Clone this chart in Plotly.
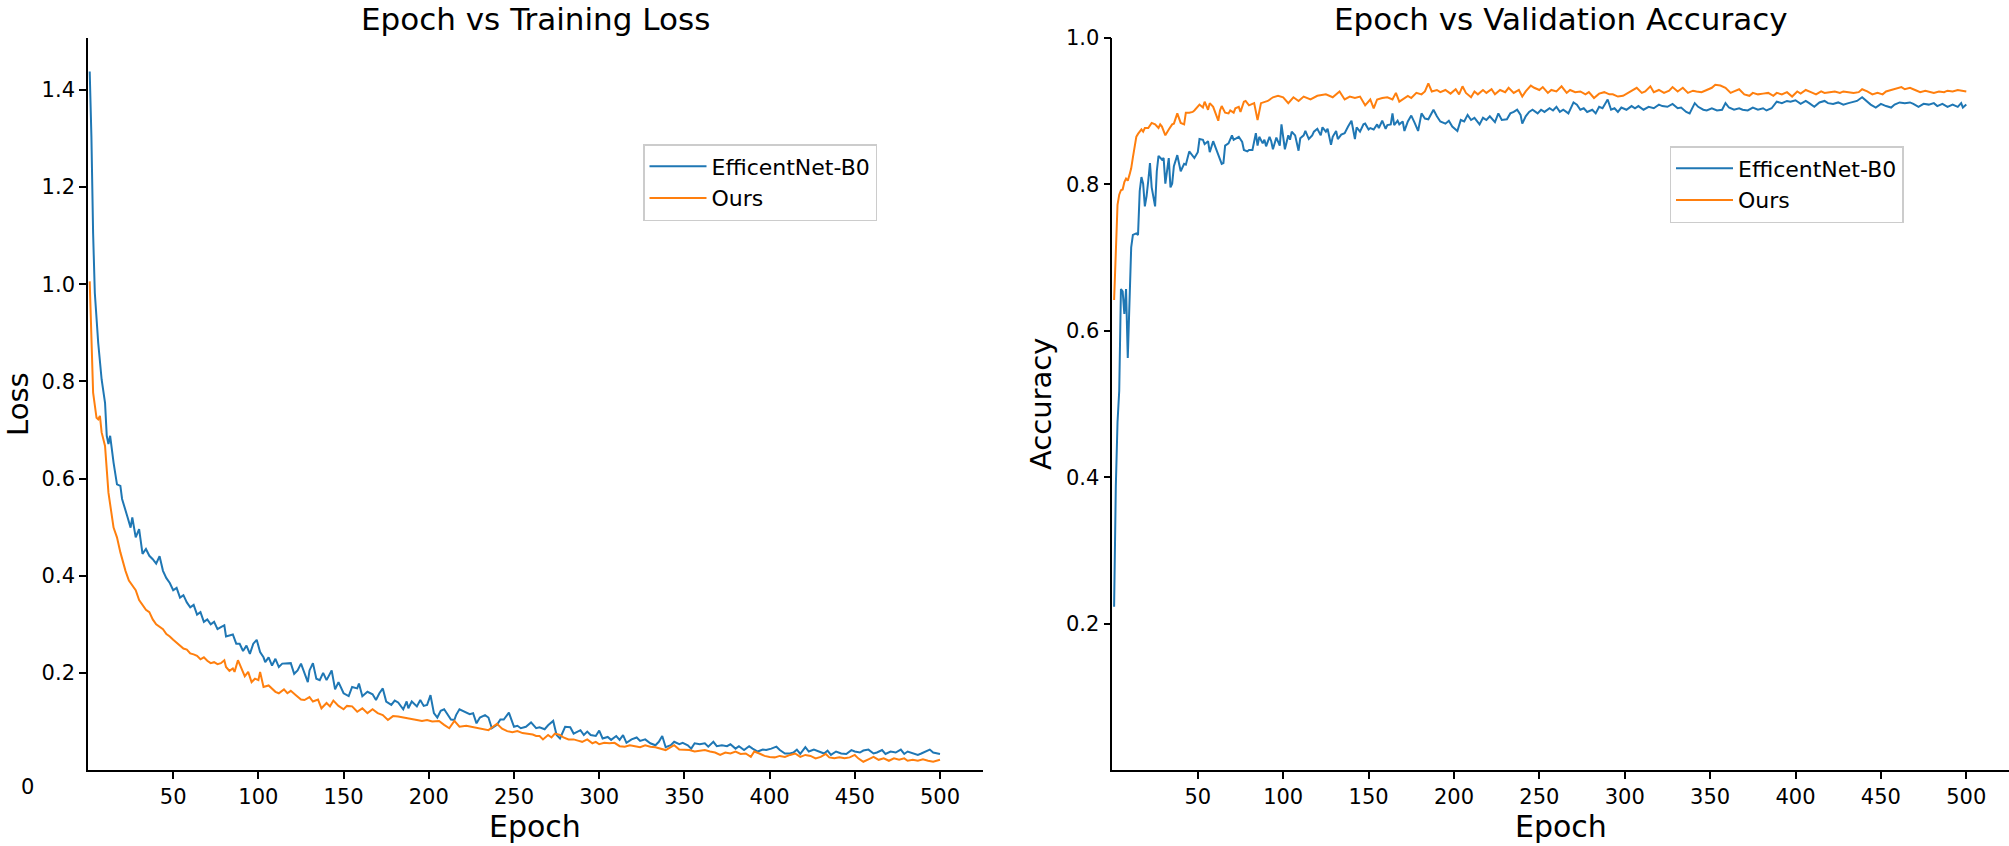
import plotly.graph_objects as go

# ---------------- data ----------------
SERIES_NAMES = ["EfficentNet-B0", "Ours"]
X_TICKS = [50, 100, 150, 200, 250, 300, 350, 400, 450, 500]
LOSS_TICKS = [0.2, 0.4, 0.6, 0.8, 1.0, 1.2, 1.4]
ACC_TICKS = [0.2, 0.4, 0.6, 0.8, 1.0]

# Training loss - EfficentNet-B0
loss_effnet_epoch = [1, 2, 3, 4, 6, 8, 10, 11, 12, 13, 15, 17, 19, 20, 23, 25, 26, 28, 30, 32, 34, 36, 38, 40, 42, 44, 46, 48, 50, 52, 54, 56, 58, 60, 62, 64, 66, 68, 70, 72, 74, 76, 78, 80, 81, 85, 87, 89, 91, 93, 95, 97, 99, 101, 103, 104, 106, 108, 110, 112, 114, 117, 119, 121, 123, 125, 127, 129, 130, 132, 134, 136, 138, 140, 143, 145, 147, 150, 153, 155, 158, 159, 161, 164, 167, 169, 171, 173, 175, 178, 180, 182, 185, 187, 188, 190, 193, 195, 197, 199, 201, 203, 205, 207, 209, 211, 213, 215, 216, 218, 221, 224, 226, 228, 230, 233, 235, 237, 240, 242, 244, 245, 247, 250, 252, 254, 257, 260, 263, 265, 268, 270, 273, 275, 277, 280, 283, 285, 287, 289, 291, 293, 295, 298, 300, 302, 305, 307, 310, 312, 314, 316, 319, 322, 324, 327, 330, 333, 335, 337, 339, 342, 344, 347, 349, 352, 354, 356, 359, 362, 364, 367, 369, 372, 375, 377, 380, 382, 385, 388, 390, 393, 396, 398, 401, 404, 406, 409, 412, 414, 416, 418, 421, 423, 426, 429, 432, 434, 436, 439, 442, 445, 448, 450, 453, 455, 458, 461, 463, 466, 468, 471, 474, 477, 479, 481, 484, 487, 489, 492, 494, 496, 500]
loss_effnet = [1.438, 1.304, 1.105, 0.982, 0.879, 0.804, 0.756, 0.688, 0.671, 0.688, 0.633, 0.588, 0.585, 0.558, 0.523, 0.499, 0.520, 0.479, 0.496, 0.445, 0.455, 0.441, 0.434, 0.425, 0.440, 0.410, 0.395, 0.385, 0.370, 0.375, 0.355, 0.360, 0.345, 0.335, 0.340, 0.320, 0.325, 0.305, 0.310, 0.300, 0.305, 0.290, 0.294, 0.298, 0.275, 0.279, 0.260, 0.260, 0.245, 0.256, 0.239, 0.260, 0.268, 0.243, 0.232, 0.222, 0.232, 0.215, 0.229, 0.212, 0.219, 0.219, 0.220, 0.198, 0.205, 0.219, 0.198, 0.181, 0.205, 0.220, 0.188, 0.185, 0.200, 0.185, 0.205, 0.166, 0.181, 0.158, 0.152, 0.171, 0.168, 0.178, 0.152, 0.161, 0.156, 0.144, 0.158, 0.168, 0.141, 0.134, 0.143, 0.139, 0.125, 0.141, 0.127, 0.141, 0.131, 0.144, 0.132, 0.134, 0.154, 0.117, 0.108, 0.122, 0.125, 0.113, 0.104, 0.103, 0.113, 0.125, 0.120, 0.115, 0.117, 0.096, 0.108, 0.113, 0.108, 0.086, 0.093, 0.104, 0.104, 0.108, 0.118, 0.089, 0.091, 0.086, 0.089, 0.098, 0.086, 0.088, 0.084, 0.092, 0.101, 0.072, 0.065, 0.089, 0.088, 0.075, 0.079, 0.082, 0.072, 0.079, 0.072, 0.070, 0.081, 0.065, 0.068, 0.062, 0.070, 0.062, 0.072, 0.056, 0.063, 0.067, 0.060, 0.063, 0.055, 0.051, 0.058, 0.070, 0.047, 0.051, 0.058, 0.053, 0.056, 0.051, 0.044, 0.055, 0.053, 0.055, 0.048, 0.058, 0.049, 0.051, 0.049, 0.053, 0.044, 0.049, 0.041, 0.049, 0.044, 0.038, 0.042, 0.041, 0.044, 0.048, 0.041, 0.034, 0.034, 0.036, 0.042, 0.033, 0.047, 0.038, 0.042, 0.038, 0.034, 0.040, 0.031, 0.038, 0.034, 0.033, 0.041, 0.038, 0.036, 0.040, 0.042, 0.034, 0.036, 0.041, 0.033, 0.038, 0.036, 0.042, 0.033, 0.038, 0.034, 0.031, 0.034, 0.038, 0.042, 0.036, 0.033]

# Training loss - Ours
loss_ours_epoch = [1, 2, 3, 5, 6, 7, 8, 10, 12, 15, 17, 19, 20, 22, 24, 26, 28, 30, 32, 34, 36, 38, 40, 42, 44, 46, 48, 50, 52, 54, 56, 58, 60, 62, 64, 66, 68, 70, 72, 74, 76, 78, 80, 81, 83, 85, 86, 88, 90, 92, 94, 96, 98, 100, 101, 103, 106, 108, 110, 112, 115, 117, 119, 122, 125, 127, 130, 132, 135, 137, 140, 142, 144, 147, 150, 152, 155, 158, 161, 164, 167, 170, 173, 176, 179, 182, 186, 189, 193, 196, 199, 202, 206, 209, 212, 215, 218, 222, 225, 228, 232, 235, 238, 240, 243, 246, 249, 252, 255, 258, 261, 263, 265, 267, 270, 272, 274, 277, 279, 282, 285, 288, 290, 293, 296, 298, 300, 303, 306, 309, 312, 315, 318, 321, 324, 327, 330, 333, 336, 339, 342, 344, 347, 350, 353, 356, 359, 362, 365, 368, 371, 374, 377, 380, 383, 386, 389, 391, 394, 397, 400, 403, 406, 409, 412, 415, 418, 421, 424, 427, 430, 433, 435, 438, 441, 444, 447, 450, 452, 455, 458, 461, 464, 467, 470, 473, 476, 479, 481, 484, 487, 490, 493, 496, 500]
loss_ours = [1.006, 0.900, 0.777, 0.725, 0.722, 0.729, 0.695, 0.667, 0.571, 0.499, 0.479, 0.448, 0.434, 0.410, 0.390, 0.380, 0.370, 0.350, 0.340, 0.330, 0.325, 0.310, 0.300, 0.295, 0.290, 0.280, 0.275, 0.268, 0.262, 0.258, 0.250, 0.248, 0.240, 0.238, 0.235, 0.228, 0.232, 0.225, 0.220, 0.222, 0.218, 0.220, 0.226, 0.212, 0.204, 0.209, 0.202, 0.226, 0.209, 0.193, 0.202, 0.181, 0.188, 0.185, 0.202, 0.171, 0.174, 0.168, 0.161, 0.158, 0.166, 0.158, 0.163, 0.154, 0.145, 0.144, 0.150, 0.141, 0.145, 0.127, 0.138, 0.131, 0.143, 0.132, 0.125, 0.132, 0.131, 0.120, 0.127, 0.117, 0.125, 0.117, 0.113, 0.103, 0.111, 0.110, 0.108, 0.106, 0.103, 0.101, 0.103, 0.100, 0.101, 0.093, 0.086, 0.101, 0.089, 0.091, 0.089, 0.088, 0.084, 0.082, 0.090, 0.095, 0.085, 0.080, 0.078, 0.080, 0.076, 0.074, 0.073, 0.070, 0.070, 0.063, 0.072, 0.067, 0.075, 0.072, 0.067, 0.063, 0.063, 0.060, 0.058, 0.063, 0.055, 0.058, 0.053, 0.056, 0.055, 0.056, 0.049, 0.048, 0.051, 0.049, 0.047, 0.051, 0.048, 0.047, 0.044, 0.041, 0.047, 0.051, 0.042, 0.042, 0.041, 0.038, 0.040, 0.041, 0.038, 0.036, 0.031, 0.036, 0.034, 0.038, 0.033, 0.034, 0.027, 0.038, 0.034, 0.029, 0.027, 0.026, 0.029, 0.027, 0.031, 0.034, 0.027, 0.031, 0.029, 0.024, 0.027, 0.033, 0.026, 0.024, 0.026, 0.024, 0.026, 0.031, 0.024, 0.017, 0.022, 0.027, 0.021, 0.024, 0.019, 0.024, 0.021, 0.024, 0.019, 0.021, 0.019, 0.022, 0.019, 0.017, 0.021]

# Validation accuracy - EfficentNet-B0
acc_effnet_epoch = [1, 2, 3, 4, 5, 6, 7, 8, 9, 10, 11, 12, 14, 15, 16, 17, 18, 19, 20, 21, 22, 23, 25, 26, 27, 29, 30, 31, 32, 33, 34, 35, 36, 38, 39, 40, 42, 43, 45, 47, 48, 50, 51, 53, 54, 56, 57, 59, 60, 62, 64, 65, 66, 68, 70, 71, 73, 74, 76, 77, 79, 80, 82, 84, 85, 86, 88, 89, 90, 92, 93, 94, 96, 98, 99, 101, 103, 104, 105, 107, 109, 110, 112, 113, 115, 117, 118, 120, 122, 123, 125, 126, 128, 129, 131, 132, 134, 136, 138, 140, 142, 143, 145, 147, 148, 150, 151, 153, 155, 156, 158, 160, 161, 163, 164, 165, 167, 168, 170, 171, 173, 175, 177, 179, 181, 183, 185, 188, 190, 192, 195, 197, 199, 202, 204, 206, 208, 210, 212, 215, 217, 219, 221, 224, 226, 228, 231, 233, 235, 237, 239, 240, 242, 244, 246, 249, 251, 253, 256, 258, 260, 262, 264, 267, 270, 272, 274, 276, 278, 281, 283, 285, 287, 290, 292, 294, 296, 298, 301, 304, 306, 308, 311, 314, 317, 320, 322, 325, 328, 331, 333, 336, 338, 341, 343, 346, 348, 351, 354, 357, 359, 361, 364, 367, 369, 372, 375, 378, 381, 383, 386, 389, 392, 395, 397, 400, 403, 406, 408, 411, 414, 417, 419, 422, 425, 428, 431, 433, 436, 439, 442, 444, 447, 450, 453, 456, 458, 461, 464, 467, 469, 472, 475, 478, 481, 483, 486, 489, 492, 495, 497, 498, 500]
acc_effnet = [0.223, 0.388, 0.475, 0.518, 0.657, 0.654, 0.623, 0.657, 0.563, 0.647, 0.714, 0.731, 0.733, 0.731, 0.791, 0.810, 0.801, 0.770, 0.784, 0.805, 0.829, 0.796, 0.770, 0.818, 0.839, 0.834, 0.836, 0.801, 0.820, 0.836, 0.796, 0.801, 0.825, 0.840, 0.829, 0.818, 0.828, 0.827, 0.845, 0.839, 0.836, 0.844, 0.862, 0.861, 0.855, 0.859, 0.844, 0.859, 0.853, 0.840, 0.828, 0.829, 0.853, 0.856, 0.867, 0.861, 0.863, 0.865, 0.858, 0.847, 0.845, 0.847, 0.847, 0.870, 0.853, 0.865, 0.856, 0.861, 0.852, 0.865, 0.859, 0.848, 0.864, 0.853, 0.882, 0.848, 0.867, 0.861, 0.872, 0.867, 0.846, 0.863, 0.867, 0.873, 0.862, 0.867, 0.872, 0.876, 0.867, 0.878, 0.872, 0.876, 0.854, 0.865, 0.873, 0.862, 0.868, 0.870, 0.879, 0.887, 0.862, 0.878, 0.872, 0.882, 0.883, 0.875, 0.877, 0.875, 0.882, 0.877, 0.887, 0.876, 0.881, 0.882, 0.897, 0.881, 0.887, 0.882, 0.886, 0.873, 0.886, 0.894, 0.884, 0.873, 0.897, 0.890, 0.889, 0.902, 0.893, 0.886, 0.883, 0.887, 0.879, 0.873, 0.888, 0.886, 0.895, 0.888, 0.891, 0.882, 0.891, 0.888, 0.893, 0.885, 0.897, 0.888, 0.889, 0.897, 0.899, 0.902, 0.895, 0.883, 0.893, 0.899, 0.902, 0.897, 0.902, 0.899, 0.904, 0.901, 0.906, 0.899, 0.902, 0.897, 0.912, 0.909, 0.902, 0.904, 0.899, 0.902, 0.897, 0.906, 0.904, 0.916, 0.902, 0.904, 0.899, 0.905, 0.902, 0.907, 0.904, 0.907, 0.902, 0.906, 0.904, 0.909, 0.907, 0.906, 0.910, 0.904, 0.905, 0.899, 0.897, 0.911, 0.906, 0.902, 0.901, 0.904, 0.901, 0.902, 0.911, 0.905, 0.902, 0.904, 0.902, 0.901, 0.905, 0.902, 0.904, 0.901, 0.904, 0.913, 0.911, 0.914, 0.913, 0.915, 0.910, 0.914, 0.911, 0.906, 0.912, 0.914, 0.911, 0.910, 0.912, 0.909, 0.911, 0.912, 0.914, 0.919, 0.913, 0.909, 0.905, 0.910, 0.907, 0.905, 0.909, 0.912, 0.911, 0.912, 0.910, 0.906, 0.910, 0.909, 0.911, 0.907, 0.910, 0.906, 0.909, 0.906, 0.911, 0.905, 0.909]

# Validation accuracy - Ours
acc_ours_epoch = [1, 2, 3, 4, 5, 6, 7, 8, 9, 10, 11, 12, 13, 14, 15, 16, 17, 18, 19, 21, 22, 23, 25, 27, 28, 29, 31, 32, 33, 35, 36, 38, 39, 40, 42, 43, 45, 47, 48, 50, 51, 53, 54, 56, 57, 59, 60, 62, 63, 64, 66, 68, 69, 71, 72, 74, 75, 77, 78, 80, 83, 85, 87, 91, 94, 97, 100, 103, 106, 109, 112, 116, 120, 125, 129, 133, 136, 139, 142, 145, 148, 151, 153, 155, 158, 161, 164, 166, 168, 171, 173, 175, 178, 181, 183, 185, 187, 190, 192, 195, 198, 201, 203, 205, 207, 210, 212, 214, 217, 219, 222, 224, 227, 230, 232, 235, 238, 240, 242, 245, 247, 250, 252, 255, 257, 260, 263, 266, 268, 271, 274, 277, 279, 282, 285, 288, 291, 293, 296, 299, 302, 304, 307, 310, 312, 315, 317, 320, 323, 326, 328, 331, 334, 337, 340, 342, 345, 348, 351, 353, 356, 359, 362, 364, 367, 370, 373, 375, 378, 381, 384, 387, 389, 392, 395, 398, 401, 403, 406, 409, 412, 415, 417, 420, 423, 426, 428, 431, 434, 437, 439, 442, 445, 448, 451, 453, 456, 459, 462, 464, 467, 470, 473, 476, 478, 481, 484, 487, 489, 492, 495, 497, 500]
acc_ours = [0.642, 0.714, 0.772, 0.786, 0.792, 0.793, 0.803, 0.808, 0.805, 0.813, 0.822, 0.837, 0.853, 0.865, 0.869, 0.872, 0.875, 0.872, 0.877, 0.877, 0.881, 0.884, 0.882, 0.877, 0.882, 0.879, 0.867, 0.872, 0.875, 0.882, 0.883, 0.897, 0.889, 0.884, 0.882, 0.898, 0.898, 0.899, 0.901, 0.906, 0.909, 0.905, 0.913, 0.902, 0.911, 0.906, 0.899, 0.887, 0.901, 0.907, 0.898, 0.897, 0.901, 0.898, 0.904, 0.906, 0.899, 0.913, 0.914, 0.908, 0.911, 0.888, 0.911, 0.914, 0.919, 0.921, 0.919, 0.911, 0.919, 0.914, 0.920, 0.916, 0.921, 0.923, 0.919, 0.927, 0.916, 0.920, 0.918, 0.920, 0.908, 0.916, 0.904, 0.916, 0.918, 0.919, 0.916, 0.925, 0.913, 0.918, 0.921, 0.918, 0.925, 0.923, 0.927, 0.938, 0.927, 0.929, 0.926, 0.929, 0.924, 0.930, 0.923, 0.934, 0.925, 0.919, 0.927, 0.923, 0.929, 0.925, 0.930, 0.923, 0.929, 0.926, 0.932, 0.925, 0.929, 0.920, 0.927, 0.935, 0.932, 0.929, 0.933, 0.925, 0.929, 0.927, 0.934, 0.925, 0.929, 0.926, 0.927, 0.923, 0.926, 0.918, 0.924, 0.926, 0.923, 0.923, 0.920, 0.921, 0.925, 0.927, 0.932, 0.925, 0.927, 0.934, 0.926, 0.929, 0.925, 0.928, 0.933, 0.927, 0.932, 0.925, 0.928, 0.927, 0.926, 0.929, 0.932, 0.936, 0.935, 0.932, 0.925, 0.927, 0.930, 0.923, 0.921, 0.925, 0.923, 0.924, 0.925, 0.921, 0.925, 0.923, 0.926, 0.920, 0.927, 0.924, 0.929, 0.926, 0.923, 0.927, 0.925, 0.926, 0.927, 0.925, 0.927, 0.926, 0.925, 0.926, 0.930, 0.927, 0.923, 0.925, 0.923, 0.927, 0.929, 0.930, 0.933, 0.930, 0.932, 0.929, 0.926, 0.928, 0.927, 0.925, 0.927, 0.926, 0.928, 0.927, 0.929, 0.928, 0.927]

# ---------------- figure ----------------
BLUE = "#1f77b4"
ORANGE = "#ff7f0e"
FONT = "DejaVu Sans"

W, H = 2009, 846
ML, MR, MT, MB = 88, 0, 38, 76
PW = W - ML - MR
PH = H - MT - MB

def px_x(x):
    return (x - ML) / PW

def px_y(y):
    return (H - MB - y) / PH

fig = go.Figure()
line_w = 2.0
fig.add_trace(go.Scatter(x=loss_effnet_epoch, y=loss_effnet, mode="lines", name=SERIES_NAMES[0],
                         line=dict(color=BLUE, width=line_w), xaxis="x", yaxis="y", legend="legend"))
fig.add_trace(go.Scatter(x=loss_ours_epoch, y=loss_ours, mode="lines", name=SERIES_NAMES[1],
                         line=dict(color=ORANGE, width=line_w), xaxis="x", yaxis="y", legend="legend"))
fig.add_trace(go.Scatter(x=acc_effnet_epoch, y=acc_effnet, mode="lines", name=SERIES_NAMES[0],
                         line=dict(color=BLUE, width=line_w), xaxis="x2", yaxis="y2", legend="legend2"))
fig.add_trace(go.Scatter(x=acc_ours_epoch, y=acc_ours, mode="lines", name=SERIES_NAMES[1],
                         line=dict(color=ORANGE, width=line_w), xaxis="x2", yaxis="y2", legend="legend2"))

axis_common = dict(showline=True, linecolor="black", linewidth=1.6, showgrid=False, zeroline=False,
                   ticks="outside", ticklen=7, tickwidth=1.6, tickcolor="black",
                   tickfont=dict(family=FONT, size=21, color="black"), mirror=False)

left_dom = [0, px_x(982.6)]
right_dom = [px_x(1112.4), 1.0]

legend_common = dict(xanchor="left", yanchor="top",
                     bgcolor="rgba(255,255,255,0.8)", bordercolor="#cccccc", borderwidth=1.5,
                     font=dict(family=FONT, size=22, color="black"), itemwidth=57, tracegroupgap=0)

fig.update_layout(
    width=W, height=H,
    margin=dict(l=ML, r=MR, t=MT, b=MB),
    paper_bgcolor="white", plot_bgcolor="white",
    font=dict(family=FONT, color="black"),
    xaxis=dict(domain=left_dom, range=[0, 525], tickvals=X_TICKS, anchor="y", **axis_common),
    yaxis=dict(domain=[0, 1], range=[0, 1.507], tickvals=LOSS_TICKS, tickformat=".1f", anchor="x", **axis_common),
    xaxis2=dict(domain=right_dom, range=[0, 525], tickvals=X_TICKS, anchor="y2", **axis_common),
    yaxis2=dict(domain=[0, 1], range=[0, 1.0], tickvals=ACC_TICKS, tickformat=".1f", anchor="x2", **axis_common),
    legend=dict(x=px_x(643), y=px_y(144), **legend_common),
    legend2=dict(x=px_x(1669.5), y=px_y(146), **legend_common),
    showlegend=True,
)

ann = []
# subplot titles
ann.append(dict(text="Epoch vs Training Loss", x=px_x(535), y=px_y(19), xref="paper", yref="paper",
                showarrow=False, xanchor="center", yanchor="middle", font=dict(family=FONT, size=31, color="black")))
ann.append(dict(text="Epoch vs Validation Accuracy", x=px_x(1560.7), y=px_y(19), xref="paper", yref="paper",
                showarrow=False, xanchor="center", yanchor="middle", font=dict(family=FONT, size=31, color="black")))
# axis titles
ann.append(dict(text="Epoch", x=px_x(535), y=px_y(827), xref="paper", yref="paper",
                showarrow=False, xanchor="center", yanchor="middle", font=dict(family=FONT, size=30, color="black")))
ann.append(dict(text="Epoch", x=px_x(1560.7), y=px_y(827), xref="paper", yref="paper",
                showarrow=False, xanchor="center", yanchor="middle", font=dict(family=FONT, size=30, color="black")))
ann.append(dict(text="Loss", x=px_x(18), y=px_y(404), xref="paper", yref="paper", textangle=-90,
                showarrow=False, xanchor="center", yanchor="middle", font=dict(family=FONT, size=29, color="black")))
ann.append(dict(text="Accuracy", x=px_x(1041), y=px_y(404), xref="paper", yref="paper", textangle=-90,
                showarrow=False, xanchor="center", yanchor="middle", font=dict(family=FONT, size=29, color="black")))
# origin label
ann.append(dict(text="0", x=px_x(27), y=px_y(787), xref="paper", yref="paper",
                showarrow=False, xanchor="center", yanchor="middle", font=dict(family=FONT, size=21, color="black")))
fig.update_layout(annotations=ann)

fig.write_html("out.html", config={"displayModeBar": False},
               post_script="document.body.style.margin='0';document.body.style.overflow='hidden';")
